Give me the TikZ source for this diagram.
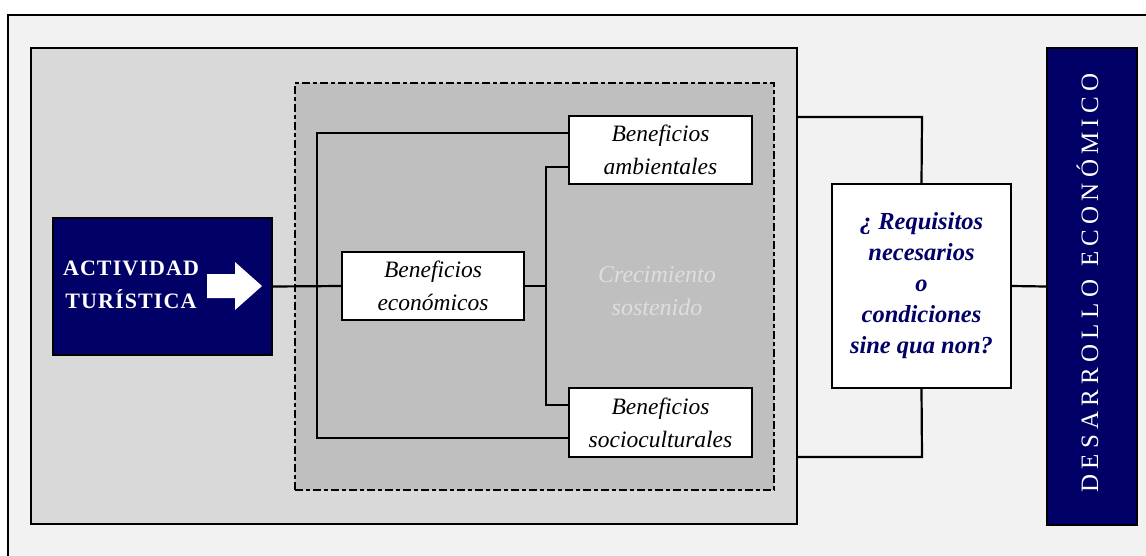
\documentclass[tikz,border=0pt]{standalone}
\usepackage{fontspec}
\setmainfont{Liberation Serif}
\definecolor{navy}{HTML}{000066}
\definecolor{paper}{HTML}{F2F2F2}
\definecolor{panel}{HTML}{D9D9D9}
\definecolor{core}{HTML}{BFBFBF}
\definecolor{faint}{HTML}{DEDEDE}
\begin{document}
\begin{tikzpicture}[x=1pt,y=-1pt,line width=2pt,
  area/.style={draw,inner sep=0pt},
  benefit/.style={draw,fill=white,inner sep=0pt,minimum width=183pt,minimum height=68pt,
    align=center,font=\fontsize{23.5}{33}\selectfont\itshape},
  darkbox/.style={draw,fill=navy,inner sep=0pt},
  link/.style={line width=2.2pt}]
\useasboundingbox (0,0) rectangle (1146,555);
\clip (0,0) rectangle (1146,555);
\fill[white] (0,0) rectangle (1146,555);
% outer sheet, running past the right and bottom edges
\draw[fill=paper] (8,15) rectangle (1170,580);
% grey panel and the dash-dotted core
\node[area,fill=panel,line width=2.4pt,minimum width=766pt,minimum height=476pt] (panel) at (414,286) {};
\node[area,fill=core,line width=1.8pt,dash pattern=on 8pt off 3pt on 4pt off 3pt,
  minimum width=479pt,minimum height=407pt] (core) at (534.5,286.5) {};
\node[font=\fontsize{24}{33}\selectfont\itshape,text=faint,align=center] (grow) at (657,291)
  {Crecimiento\\sostenido};
% benefit boxes
\node[benefit,minimum width=182pt] (eco) at (433,286) {Beneficios\\económicos};
\node[benefit] (amb) at (660.5,150) {Beneficios\\ambientales};
\node[benefit,minimum height=69pt] (soc) at (660.5,422.5) {Beneficios\\socioculturales};
% tourism activity
\node[darkbox,minimum width=219pt,minimum height=137pt] (act) at (162.5,286.5) {};
\node[text=white,align=center,font=\fontsize{22}{33}\selectfont\bfseries\addfontfeature{LetterSpace=5}]
  (acttext) at (131,285) {ACTIVIDAD\\TURÍSTICA};
\fill[white] (207,274) -- (235,274) -- (235,262) -- (262,286) -- (235,310) -- (235,298)
  -- (207,298) -- cycle;
% requirements and outcome
\node[draw,fill=white,inner sep=0pt,minimum width=179pt,minimum height=204pt,align=center,
  text=navy,font=\fontsize{24.5}{31}\selectfont\bfseries\itshape] (req) at (921.5,286)
  {¿ Requisitos\\necesarios\\o\\condiciones\\sine qua non?};
\node[darkbox,minimum width=90pt,minimum height=477pt] (des) at (1092,286.5) {};
\node[rotate=90,text=white,font=\fontsize{25}{28}\selectfont\addfontfeature{LetterSpace=21}]
  (destext) at (1087.5,283) {DESARROLLO\hspace{13pt}ECONÓMICO};
% connectors
\coordinate (tl) at (317,133);
\coordinate (bl) at (317,438);
\coordinate (tr) at (546,167);
\coordinate (br) at (546,405);
\coordinate (rt) at (922,117);
\coordinate (rb) at (922,457);
\draw[link] (act.east) -- (eco.west);
\draw[link] (amb.west |- tl) -- (tl) -- (bl) -- (soc.west |- bl);
\draw[link] (amb.west |- tr) -- (tr) -- (br) -- (soc.west |- br);
\draw[link] (eco.east) -- (eco.east -| tr);
\draw[link] (panel.east |- rt) -- (rt) -- (req.north);
\draw[link] (req.south) -- (rb) -- (panel.east |- rb);
\draw[link] (req.east) -- (des.west);
\end{tikzpicture}
\end{document}
